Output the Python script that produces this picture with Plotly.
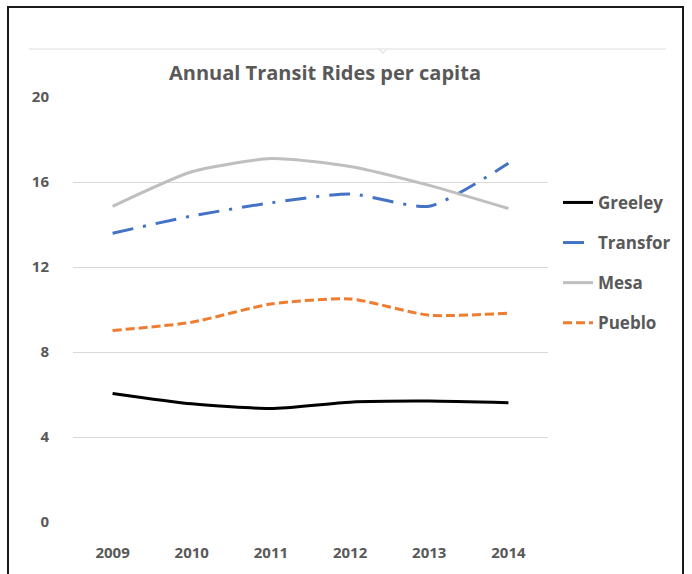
import plotly.graph_objects as go

# Annual transit rides per capita by system
years = ["2009", "2010", "2011", "2012", "2013", "2014"]
greeley = [6.05, 5.56, 5.34, 5.64, 5.69, 5.61]
transfort = [13.59, 14.40, 15.02, 15.44, 14.86, 16.88]
mesa = [14.85, 16.48, 17.10, 16.73, 15.84, 14.75]
pueblo = [9.01, 9.40, 10.26, 10.50, 9.73, 9.83]

y_ticks = [0, 4, 8, 12, 16, 20]

W, H = 692, 574
L, R, T, B = 73, 548, 97, 522.5  # plot area in pixels


def px(x):
    return (x - L) / (R - L)


def py(y):
    return (B - y) / (B - T)


GRAY_TEXT = "#595959"
FONT = "Open Sans"

fig = go.Figure()

series = [
    ("Greeley", greeley, "#000000", "solid"),
    ("Transfor", transfort, "#4472C4", "21px,10px,3px,10px"),
    ("Mesa", mesa, "#BFBFBF", "solid"),
    ("Pueblo", pueblo, "#ED7D31", "9px,4px"),
]
for name, vals, color, dash in series:
    fig.add_trace(go.Scatter(
        x=years, y=vals, name=name, mode="lines",
        line=dict(color=color, width=3, dash=dash, shape="spline", smoothing=0.6),
        legendgroup=name,
    ))

tick_font = dict(size=15, color=GRAY_TEXT, family=FONT, weight="bold")

fig.update_layout(
    width=W, height=H,
    margin=dict(l=L, r=W - R, t=T, b=H - B, pad=0),
    paper_bgcolor="white", plot_bgcolor="white",
    font=dict(family=FONT, color=GRAY_TEXT),
    title=dict(
        text="Annual Transit Rides per capita",
        x=px(325), xref="paper", xanchor="center",
        y=1 - 73 / H, yref="container", yanchor="middle",
        font=dict(size=20, color=GRAY_TEXT, family=FONT, weight="bold"),
    ),
    xaxis=dict(
        type="category", range=[-0.5, 5.5], showgrid=False, showline=False,
        zeroline=False, ticks="", tickfont=tick_font,
        ticklabelstandoff=20, fixedrange=True,
    ),
    yaxis=dict(
        range=[0, 20], tickvals=y_ticks, showgrid=True, gridcolor="#D9D9D9",
        gridwidth=1, zeroline=False, showline=False, ticks="",
        tickfont=tick_font, ticklabelstandoff=23,
    ),
    legend=dict(
        x=px(558), xanchor="left", y=py(185), yanchor="top",
        font=dict(size=17, color=GRAY_TEXT, family=FONT, weight="bold"),
        tracegroupgap=15, bgcolor="rgba(0,0,0,0)",
        itemwidth=30,
    ),
    showlegend=True,
)

shapes = [
    # outer frame
    dict(type="rect", xref="paper", yref="paper",
         x0=px(8), x1=px(683), y0=py(7), y1=py(590),
         line=dict(color="#1a1a1a", width=2), fillcolor="rgba(0,0,0,0)", layer="above"),
    # faint rule above the title
    dict(type="line", xref="paper", yref="paper",
         x0=px(29), x1=px(666), y0=py(49), y1=py(49),
         line=dict(color="#EEEEEE", width=2)),
    dict(type="path", xref="paper", yref="paper",
         path=f"M {px(379)} {py(49)} L {px(383)} {py(53)} L {px(387)} {py(49)}",
         line=dict(color="#E6E6E6", width=1.5)),
]
fig.update_layout(shapes=shapes)

fig.write_html("out.html")
